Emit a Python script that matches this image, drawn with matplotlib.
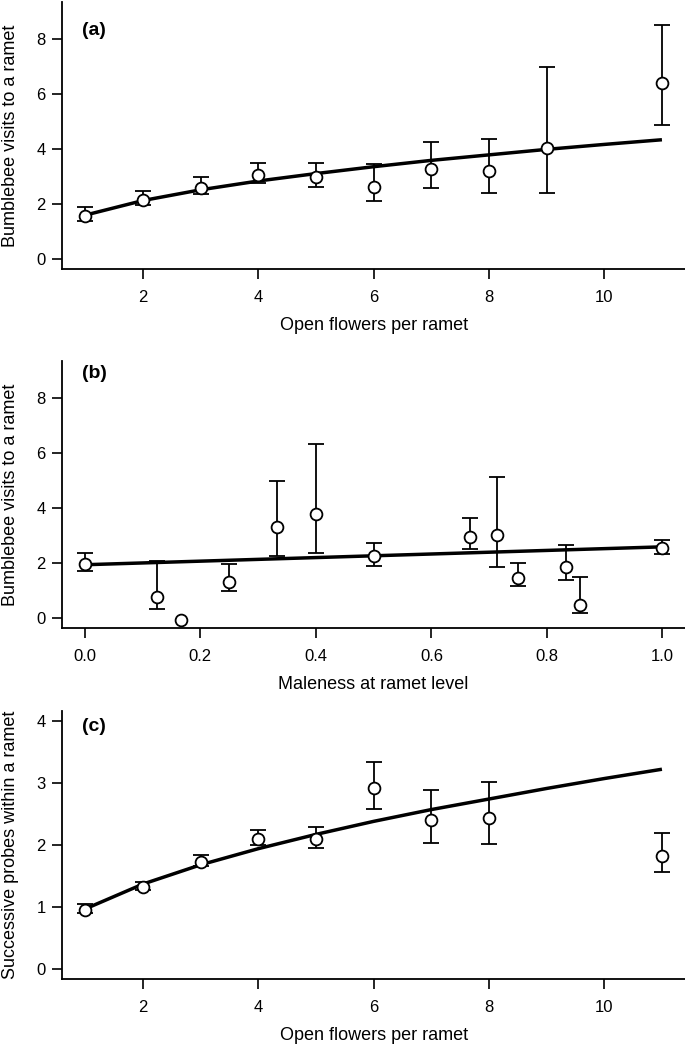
import numpy as np
import matplotlib.pyplot as plt

plt.rcParams['font.family'] = ['Liberation Sans', 'DejaVu Sans']
plt.rcParams['font.size'] = 12

# (a) visits vs open flowers
flowers = [1, 2, 3, 4, 5, 6, 7, 8, 9, 11]
visits_mean = [1.57, 2.15, 2.60, 3.07, 2.98, 2.63, 3.27, 3.20, 4.04, 6.39]
visits_lo = [1.38, 1.95, 2.36, 2.78, 2.62, 2.11, 2.59, 2.41, 2.41, 4.88]
visits_hi = [1.88, 2.48, 2.98, 3.50, 3.50, 3.46, 4.25, 4.38, 7.00, 8.52]
fit_a_x = [1, 2, 3, 4, 5, 6, 7, 8, 9, 10, 11]
fit_a_y = [1.60, 2.13, 2.52, 2.84, 3.11, 3.36, 3.59, 3.79, 3.99, 4.17, 4.34]

# (b) visits vs maleness
maleness = [0.0, 0.125, 0.167, 0.25, 0.333, 0.4, 0.5, 0.667, 0.714, 0.75, 0.833, 0.857, 1.0]
male_mean = [1.97, 0.76, -0.05, 1.34, 3.32, 3.81, 2.26, 2.97, 3.02, 1.47, 1.87, 0.50, 2.54]
male_lo = [1.74, 0.33, np.nan, 0.98, 2.27, 2.37, 1.92, 2.53, 1.85, 1.16, 1.40, 0.19, 2.34]
male_hi = [2.37, 2.10, np.nan, 1.96, 5.00, 6.32, 2.75, 3.64, 5.13, 2.03, 2.67, 1.52, 2.86]
fit_b_x = [0.0, 1.0]
fit_b_y = [1.95, 2.60]

# (c) successive probes vs open flowers
probes_x = [1, 2, 3, 4, 5, 6, 7, 8, 11]
probes_mean = [0.945, 1.33, 1.72, 2.10, 2.09, 2.91, 2.40, 2.44, 1.82]
probes_lo = [0.90, 1.28, 1.66, 2.00, 1.95, 2.58, 2.03, 2.01, 1.56]
probes_hi = [1.05, 1.41, 1.83, 2.24, 2.29, 3.34, 2.89, 3.02, 2.19]
fit_c_x = [1, 2, 3, 4, 5, 6, 7, 8, 9, 10, 11]
fit_c_y = [0.97, 1.37, 1.68, 1.94, 2.17, 2.38, 2.57, 2.74, 2.91, 3.07, 3.22]


def panel(ax, x, mean, lo, hi, fx, fy, letter, xlabel, ylabel, xlim, ylim, xticks, yticks, letter_y):
    x = np.array(x, float)
    mean = np.array(mean, float)
    lo = np.array(lo, float)
    hi = np.array(hi, float)
    ok = ~np.isnan(lo)
    ax.errorbar(x[ok], mean[ok], yerr=[mean[ok] - lo[ok], hi[ok] - mean[ok]],
                fmt='none', ecolor='black', elinewidth=1.3, capsize=5.5, capthick=1.3, zorder=2)
    ax.plot(fx, fy, color='black', lw=2.5, zorder=3, solid_capstyle='butt')
    ax.plot(x, mean, 'o', ms=8.5, mfc='white', mec='black', mew=1.3, zorder=4)
    ax.set_xlim(xlim)
    ax.set_ylim(ylim)
    ax.set_xticks(xticks)
    ax.set_yticks(yticks)
    for s in ['top', 'right']:
        ax.spines[s].set_visible(False)
    for s in ['left', 'bottom']:
        ax.spines[s].set_linewidth(1.3)
    ax.tick_params(direction='out', length=7, width=1.2, labelsize=12)
    ax.tick_params(axis='x', pad=8)
    ax.tick_params(axis='y', pad=5)
    ax.set_xlabel(xlabel, fontsize=13, labelpad=9)
    ax.set_ylabel(ylabel, fontsize=13)
    ax.yaxis.set_label_coords(-0.069, 0.5)
    ax.text(0.032, letter_y, letter, transform=ax.transAxes, fontsize=14,
            fontweight='bold', va='center', ha='left')


fig = plt.figure(figsize=(6.85, 10.45), dpi=100)
ax_a = fig.add_axes([0.091, 0.7426, 0.909, 0.2555])
ax_b = fig.add_axes([0.091, 0.399, 0.909, 0.2555])
ax_c = fig.add_axes([0.091, 0.0632, 0.909, 0.2565])

panel(ax_a, flowers, visits_mean, visits_lo, visits_hi, fit_a_x, fit_a_y, '(a)',
      'Open flowers per ramet', 'Bumblebee visits to a ramet',
      (0.6, 11.4), (-0.36, 9.35), [2, 4, 6, 8, 10], [0, 2, 4, 6, 8], 0.895)
panel(ax_b, maleness, male_mean, male_lo, male_hi, fit_b_x, fit_b_y, '(b)',
      'Maleness at ramet level', 'Bumblebee visits to a ramet',
      (-0.039, 1.039), (-0.35, 9.35), [0.0, 0.2, 0.4, 0.6, 0.8, 1.0], [0, 2, 4, 6, 8], 0.955)
ax_b.set_xticklabels(['0.0', '0.2', '0.4', '0.6', '0.8', '1.0'])
panel(ax_c, probes_x, probes_mean, probes_lo, probes_hi, fit_c_x, fit_c_y, '(c)',
      'Open flowers per ramet', 'Successive probes within a ramet',
      (0.6, 11.4), (-0.16, 4.16), [2, 4, 6, 8, 10], [0, 1, 2, 3, 4], 0.94)

fig.savefig('out.png', dpi=100)
